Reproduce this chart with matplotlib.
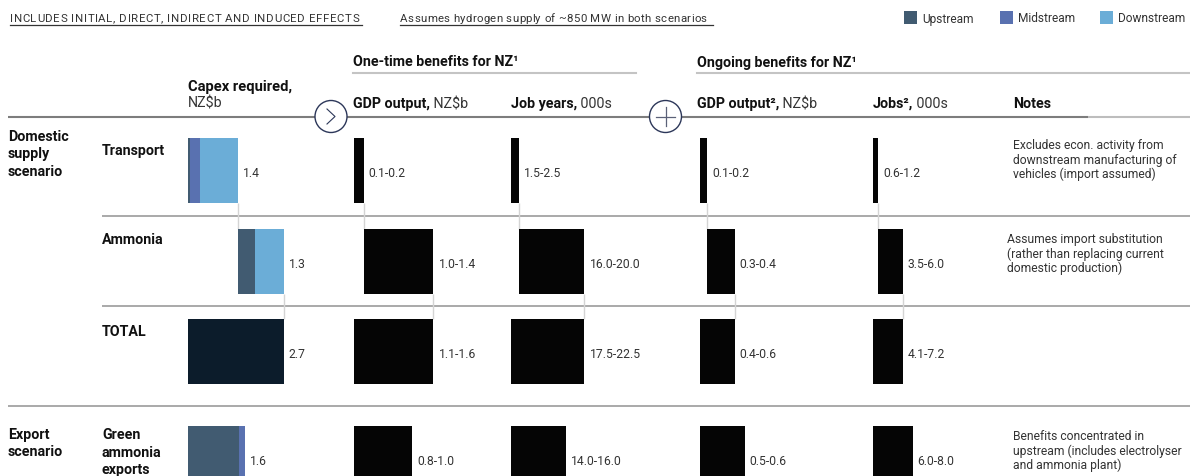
import matplotlib
matplotlib.use("Agg")
import matplotlib.pyplot as plt
from matplotlib.patches import Rectangle, Circle

plt.rcParams['font.family'] = ['Roboto', 'DejaVu Sans']

W, H = 1190, 477

# ---------------- data ----------------
rows = ["Transport", "Ammonia", "TOTAL", "Green\nammonia\nexports"]

# Capex required, NZ$b (split by value-chain stage)
capex_upstream = [0.05, 0.50, 0.00, 1.45]
capex_midstream = [0.30, 0.00, 0.00, 0.15]
capex_downstream = [1.05, 0.80, 0.00, 0.00]
capex_total = [1.4, 1.3, 2.7, 1.6]

# One-time GDP output, NZ$b
gdp_once_low = [0.1, 1.0, 1.1, 0.8]
gdp_once_high = [0.2, 1.4, 1.6, 1.0]
gdp_once_est = [0.17, 1.20, 1.37, 1.00]

# One-time job years, 000s
jobyrs_low = [1.5, 16.0, 17.5, 14.0]
jobyrs_high = [2.5, 20.0, 22.5, 16.0]
jobyrs_est = [2.2, 18.2, 20.4, 15.2]

# Ongoing GDP output, NZ$b
gdp_ong_low = [0.1, 0.3, 0.4, 0.5]
gdp_ong_high = [0.2, 0.4, 0.6, 0.6]
gdp_ong_est = [0.10, 0.37, 0.47, 0.60]

# Ongoing jobs, 000s
jobs_low = [0.6, 3.5, 4.1, 6.0]
jobs_high = [1.2, 6.0, 7.2, 8.0]
jobs_est = [1.0, 4.4, 5.4, 7.2]

notes = [
    "Excludes econ. activity from\ndownstream manufacturing of\nvehicles (import assumed)",
    "Assumes import substitution\n(rather than replacing current\ndomestic production)",
    "",
    "Benefits concentrated in\nupstream (includes electrolyser\nand ammonia plant)",
]

# ---------------- styles / layout ----------------
C_UP, C_MID, C_DOWN = "#415b71", "#5971b0", "#6badd7"
C_TOTAL = "#0c1c2b"
C_BAR = "#050505"
C_TXT = "#333333"
C_HEAD = "#111111"
C_CONN = "#d4d4d4"
C_NAVY = "#2c3759"

row_center = [171.5, 262.5, 352.5, 459.5]
bar_h = 65

fig = plt.figure(figsize=(W / 100, H / 100), dpi=100)
fig.patch.set_facecolor("white")

bg = fig.add_axes([0, 0, 1, 1])
bg.set_xlim(0, W)
bg.set_ylim(H, 0)
bg.set_axis_off()

renderer = fig.canvas.get_renderer()


def lines_text(x, y0, text, step, **kw):
    for i, line in enumerate(text.split("\n")):
        bg.text(x, y0 + i * step, line, va="baseline", ha="left", **kw)


def tracked_text(x, y, s, tracking, **kw):
    """Draw a line of text with extra letter spacing (in pixels)."""
    probe = bg.text(0, 0, "nn", **kw)
    w_nn = probe.get_window_extent(renderer).width
    probe.set_text("n n")
    space_w = probe.get_window_extent(renderer).width - w_nn
    probe.remove()
    cx = x
    for ch in s:
        if ch == " ":
            cx += space_w + tracking
            continue
        t = bg.text(cx, y, ch, va="baseline", ha="left", **kw)
        cx += t.get_window_extent(renderer).width + tracking
    return cx


def heading(x, y, bold, regular=None, size=10.3):
    t = bg.text(x, y, bold, fontweight="bold", fontsize=size, color=C_HEAD,
                va="baseline", ha="left")
    if regular:
        bg.annotate(regular, xy=(1, 0), xycoords=t, fontsize=size, color=C_TXT,
                    va="bottom", ha="left")
    return t


# top notes with underline
tracked_text(10, 21.5, "INCLUDES INITIAL, DIRECT, INDIRECT AND INDUCED EFFECTS",
             0.6, fontsize=8.2, color=C_TXT)
bg.plot([10, 362], [25.5, 25.5], color="#333333", lw=0.9)
tracked_text(400, 21.5, "Assumes hydrogen supply of ~850 MW in both scenarios",
             0.35, fontsize=8.2, color=C_TXT)
bg.plot([400, 713], [25.5, 25.5], color="#333333", lw=0.9)

# legend
for x, c, lab in [(904, C_UP, "Upstream"), (1000, C_MID, "Midstream"),
                  (1100, C_DOWN, "Downstream")]:
    bg.add_patch(Rectangle((x, 12), 12.5, 12.5, color=c, lw=0))
    bg.text(x + 18, 22.5, lab, fontsize=8.6, color=C_TXT, va="baseline")

# group headers
heading(353, 66.5, "One-time benefits for NZ\u00b9")
bg.plot([353, 636], [74.3, 74.3], color="#c4c4c4", lw=1.5)
heading(697, 66.5, "Ongoing benefits for NZ\u00b9")
bg.plot([697, W], [74.3, 74.3], color="#c4c4c4", lw=1.5)

# column headers
heading(188, 90.5, "Capex required,", size=10.6)
bg.text(188, 107.5, "NZ$b", fontsize=10.3, color=C_TXT, va="baseline")
heading(353, 108, "GDP output,", " NZ$b")
heading(511, 108, "Job years,", " 000s")
heading(697, 108, "GDP output\u00b2,", " NZ$b")
heading(873, 108, "Jobs\u00b2,", " 000s")
heading(1013, 108, "Notes")

# header rule and connector circles
bg.plot([8, 1088], [117.5, 117.5], color="#7d7d7d", lw=1.5, solid_capstyle="butt")
bg.plot([1088, W], [117.5, 117.5], color="#bdbdbd", lw=1.5, solid_capstyle="butt")
for cx in (331, 665.5):
    bg.add_patch(Circle((cx, 117.5), 16, facecolor="white", edgecolor=C_NAVY,
                        lw=1.0, zorder=3))
bg.plot([327, 335, 327], [110, 117.5, 125], color=C_NAVY, lw=0.8, zorder=4)
bg.plot([656, 675], [117.5, 117.5], color="#5b6178", lw=0.9, zorder=4)
bg.plot([665.5, 665.5], [108, 127], color="#5b6178", lw=0.9, zorder=4)

# row separators
for y, x0 in [(216.7, 102), (307.3, 102), (407.3, 8)]:
    bg.plot([x0, W], [y, y], color="#a3a3a3", lw=1.3, solid_capstyle="butt")

# scenario and row labels
lines_text(8, 140.7, "Domestic\nsupply\nscenario", 17.6, fontsize=10.3,
           fontweight="bold", color=C_HEAD)
lines_text(8, 439.3, "Export\nscenario", 17.2, fontsize=10.3,
           fontweight="bold", color=C_HEAD)
for lab, y in zip(rows, [155.3, 244.3, 335.7, 439.3]):
    lines_text(102, y, lab, 17.4, fontsize=10.3, fontweight="bold", color=C_HEAD)

# notes column
for txt, x, y in zip(notes, [1013, 1007, 1013, 1013], [149, 243.3, 0, 440]):
    if txt:
        lines_text(x, y, txt, 14.6, fontsize=8.7, color=C_TXT)


def column_axes(x0, px_per_unit):
    ax = fig.add_axes([x0 / W, 0, (W - x0) / W, 1])
    ax.set_xlim(0, (W - x0) / px_per_unit)
    ax.set_ylim(H, 0)
    ax.set_axis_off()
    ax.patch.set_visible(False)
    return ax


def waterfall_starts(vals):
    # domestic rows build up to the total; export row stands alone
    return [0.0, vals[0], 0.0, 0.0]


def connectors(ax, vals, starts):
    ax.vlines(starts[0] + vals[0], row_center[0] + bar_h / 2,
              row_center[1] - bar_h / 2, color=C_CONN, lw=1.0, zorder=1)
    ax.vlines(starts[1] + vals[1], row_center[1] + bar_h / 2,
              row_center[2] - bar_h / 2, color=C_CONN, lw=1.0, zorder=1)


def value_label(ax, x, y, text):
    ax.annotate(text, xy=(x, y), xytext=(3.6, -4.2), textcoords="offset points",
                fontsize=8.7, color=C_TXT, va="baseline", ha="left")


# capex column (stacked by stage)
ax_cap = column_axes(188, 35.4)
starts = waterfall_starts(capex_total)
connectors(ax_cap, capex_total, starts)
for i in range(len(rows)):
    if rows[i] == "TOTAL":
        ax_cap.barh(row_center[i], capex_total[i], left=starts[i], height=bar_h,
                    color=C_TOTAL, lw=0, zorder=2)
    else:
        left = starts[i]
        for seg, c in [(capex_upstream[i], C_UP), (capex_midstream[i], C_MID),
                       (capex_downstream[i], C_DOWN)]:
            if seg > 0:
                ax_cap.barh(row_center[i], seg, left=left, height=bar_h,
                            color=c, lw=0, zorder=2)
                left += seg
    value_label(ax_cap, starts[i] + capex_total[i], row_center[i],
                f"{capex_total[i]:.1f}")

# benefit columns (black bars with range labels)
benefit_cols = [
    (354, 58.0, gdp_once_est, gdp_once_low, gdp_once_high),
    (511, 3.6, jobyrs_est, jobyrs_low, jobyrs_high),
    (699.5, 75.0, gdp_ong_est, gdp_ong_low, gdp_ong_high),
    (873, 5.5, jobs_est, jobs_low, jobs_high),
]
for x0, scale, est, lo, hi in benefit_cols:
    ax = column_axes(x0, scale)
    starts = waterfall_starts(est)
    connectors(ax, est, starts)
    ax.barh(row_center, est, left=starts, height=bar_h, color=C_BAR, lw=0,
            zorder=2)
    for i in range(len(rows)):
        value_label(ax, starts[i] + est[i], row_center[i],
                    f"{lo[i]:.1f}-{hi[i]:.1f}")

fig.savefig("out.png", dpi=100, facecolor="white")
